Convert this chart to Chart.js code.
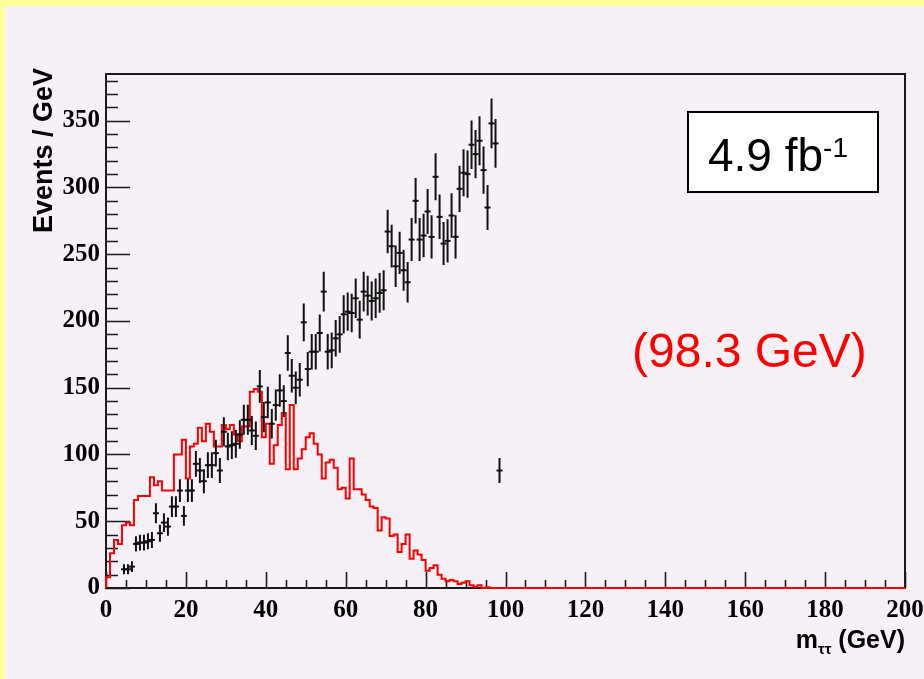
<!DOCTYPE html>
<html>
<head>
<meta charset="utf-8">
<script src="https://cdn.jsdelivr.net/npm/chart.js@4.4.0/dist/chart.umd.min.js"></script>
<style>
  html, body { margin: 0; padding: 0; background: #ffff9c; }
  #c { display: block; }
</style>
</head>
<body>
<canvas id="c" width="924" height="679"></canvas>
<script>
// Histogram binning (GeV)
const histMin = 0;
const histMax = 200;
const binWidth = 1;

// Simulated signal shape, events per 1 GeV bin starting at 0 GeV
const signalCounts = [
  0, 8, 26, 36, 33, 47, 49, 47, 66, 69,
  69, 69, 83, 77, 80, 73, 73, 73, 100, 100,
  111, 82, 106, 108, 120, 110, 123, 117, 106, 106,
  122, 119, 122, 115, 110, 121, 121, 147, 149, 147,
  113, 123, 93, 107, 122, 131, 89, 137, 89, 97,
  104, 113, 116, 108, 100, 82, 94, 96, 90, 74,
  75, 67, 97, 74, 74, 70, 66, 61, 60, 43,
  53, 52, 39, 40, 27, 33, 40, 22, 28, 25,
  21, 13, 15, 17, 10, 7, 5, 6, 5, 3,
  4, 5, 2, 1, 2, 0, 0.5, 0, 0, 0
];

// Observed events per 1 GeV bin starting at 0 GeV (null = empty bin)
const observedCounts = [
  null, null, null, null, 14, 14, 16, 33, 34, 34,
  35, 36, 56, 41, 49, 46, 61, 61, 73, 54,
  73, 73, 93, 88, 80, 92, 92, 101, 88, 117,
  106, 107, 108, 115, 126, 126, 118, 114, 151, 128,
  139, 123, 137, 148, 140, 176, 159, 150, 156, 199,
  164, 177, 177, 191, 222, 177, 178, 187, 190, 205,
  207, 206, 217, 201, 222, 219, 215, 217, 221, 223,
  267, 256, 241, 251, 238, 229, 261, 290, 261, 264,
  282, 263, 308, 278, 258, 260, 279, 263, 299, 311,
  310, 332, 325, 335, 313, 285, 348, 333, 88, null
];

const xTickStep = 20;
const yTickStep = 50;
const yMax = 385;

// Step outline: one point per bin low edge, closed at the histogram end
const signalPoints = signalCounts.map((v, i) => ({ x: histMin + i * binWidth, y: v }));
signalPoints.push({ x: histMin + signalCounts.length * binWidth, y: 0 });
signalPoints.push({ x: histMax, y: 0 });

// Data markers at bin centres
const observedPoints = [];
observedCounts.forEach((v, i) => {
  if (v !== null) observedPoints.push({ x: histMin + (i + 0.5) * binWidth, y: v });
});

const tickFont = { family: 'Liberation Serif', weight: 'bold', size: 25 };

// Background panels, frame and inside tick marks
const framePlugin = {
  id: 'framePlugin',
  beforeDraw(chart) {
    const ctx = chart.ctx;
    ctx.save();
    ctx.fillStyle = '#ffff9c';
    ctx.fillRect(0, 0, chart.width, chart.height);
    ctx.fillStyle = '#f6f1f6';
    ctx.fillRect(5, 6, chart.width - 5, chart.height - 6);
    ctx.restore();
  },
  beforeDatasetsDraw(chart) {
    const ctx = chart.ctx;
    const a = chart.chartArea;
    const xs = chart.scales.x, ys = chart.scales.y;
    ctx.save();
    ctx.strokeStyle = '#1a1a1a';
    ctx.lineWidth = 2;
    ctx.strokeRect(a.left, a.top, a.right - a.left, a.bottom - a.top);
    ctx.lineWidth = 1.6;
    ctx.beginPath();
    for (let v = histMin; v <= histMax; v += 5) {
      const px = Math.round(xs.getPixelForValue(v)) + 0.5;
      const len = (v % xTickStep === 0) ? 16 : 8;
      ctx.moveTo(px, a.bottom);
      ctx.lineTo(px, a.bottom - len);
    }
    for (let v = 0; v <= yMax; v += 10) {
      const py = Math.round(ys.getPixelForValue(v)) + 0.5;
      const len = (v % yTickStep === 0) ? 24 : 12;
      ctx.moveTo(a.left, py);
      ctx.lineTo(a.left + len, py);
    }
    ctx.stroke();
    ctx.restore();
  },
  afterDatasetsDraw(chart) {
    // vertical Poisson error bars on the observed points
    const ctx = chart.ctx;
    const xs = chart.scales.x, ys = chart.scales.y;
    ctx.save();
    ctx.strokeStyle = '#111';
    ctx.lineWidth = 2;
    ctx.beginPath();
    observedPoints.forEach(p => {
      const err = Math.sqrt(p.y);
      const px = xs.getPixelForValue(p.x);
      ctx.moveTo(px, ys.getPixelForValue(p.y - err));
      ctx.lineTo(px, ys.getPixelForValue(p.y + err));
    });
    ctx.stroke();
    ctx.restore();
  },
  afterDraw(chart) {
    const ctx = chart.ctx;
    ctx.save();
    ctx.fillStyle = '#000';

    // y-axis title
    ctx.save();
    ctx.translate(52, 68);
    ctx.rotate(-Math.PI / 2);
    ctx.font = 'bold 27px "Liberation Sans"';
    ctx.textAlign = 'right';
    ctx.textBaseline = 'alphabetic';
    ctx.fillText('Events / GeV', 0, 0);
    ctx.restore();

    // x-axis title with subscript
    const mainFont = 'bold 25px "Liberation Sans"';
    const subFont = 'bold 15px "Liberation Sans"';
    ctx.font = mainFont;
    const wm = ctx.measureText('m').width;
    const wr = ctx.measureText(' (GeV)').width;
    ctx.font = subFont;
    const ws = ctx.measureText('ττ').width;
    let x0 = chart.chartArea.right - (wm + ws + wr);
    const base = 648;
    ctx.textAlign = 'left';
    ctx.font = mainFont;
    ctx.fillText('m', x0, base);
    ctx.font = subFont;
    ctx.fillText('ττ', x0 + wm, base + 6);
    ctx.font = mainFont;
    ctx.fillText(' (GeV)', x0 + wm + ws, base);

    // luminosity box
    ctx.fillStyle = '#fff';
    ctx.fillRect(688, 112, 190, 80);
    ctx.strokeStyle = '#000';
    ctx.lineWidth = 2;
    ctx.strokeRect(688, 112, 190, 80);
    ctx.fillStyle = '#000';
    ctx.font = '46px "Liberation Sans"';
    ctx.fillText('4.9 fb', 708, 171);
    const wl = ctx.measureText('4.9 fb').width;
    ctx.font = '28px "Liberation Sans"';
    ctx.fillText('-1', 708 + wl, 157);

    // mass label
    ctx.fillStyle = '#ff0000';
    ctx.font = '48px "Liberation Sans"';
    ctx.fillText('(98.3 GeV)', 632, 367);
    ctx.restore();
  }
};

new Chart(document.getElementById('c'), {
  type: 'scatter',
  data: {
    datasets: [
      {
        label: 'signal',
        data: signalPoints,
        showLine: true,
        stepped: 'after',
        borderColor: '#ff0000',
        borderWidth: 2,
        pointRadius: 0,
        fill: false,
        clip: false,
        order: 2
      },
      {
        label: 'data',
        data: observedPoints,
        showLine: false,
        pointStyle: 'line',
        pointRadius: 3,
        borderColor: '#111',
        backgroundColor: '#111',
        borderWidth: 2,
        clip: false,
        order: 1
      }
    ]
  },
  options: {
    responsive: false,
    animation: false,
    devicePixelRatio: 1,
    layout: { padding: { left: 0, top: 74, right: 19, bottom: 0 } },
    plugins: { legend: { display: false }, tooltip: { enabled: false } },
    scales: {
      x: {
        type: 'linear',
        min: histMin,
        max: histMax,
        grid: { display: false, drawTicks: false },
        border: { display: false },
        ticks: {
          stepSize: xTickStep,
          includeBounds: false,
          maxRotation: 0,
          autoSkip: false,
          padding: 8,
          color: '#000',
          font: tickFont
        },
        afterFit(s) { s.height = 91; s.paddingLeft = 0; s.paddingRight = 0; }
      },
      y: {
        type: 'linear',
        min: 0,
        max: yMax,
        grid: { display: false, drawTicks: false },
        border: { display: false },
        ticks: {
          stepSize: yTickStep,
          includeBounds: false,
          padding: 6,
          color: '#000',
          font: tickFont
        },
        afterFit(s) { s.width = 106; s.paddingTop = 0; s.paddingBottom = 0; }
      }
    }
  },
  plugins: [framePlugin]
});
</script>
</body>
</html>
